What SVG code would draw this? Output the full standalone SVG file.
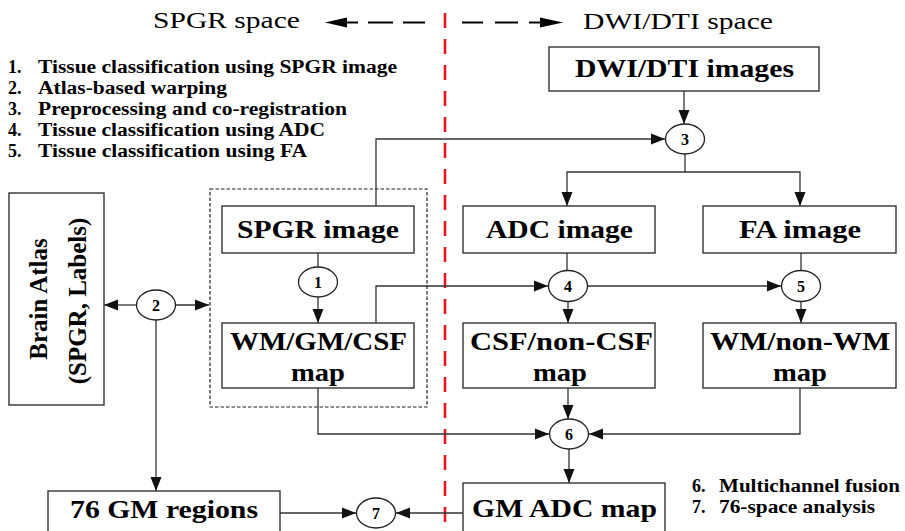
<svg xmlns="http://www.w3.org/2000/svg" width="905" height="531" viewBox="0 0 905 531">
  <defs>
    <marker id="arrow" markerUnits="userSpaceOnUse" markerWidth="16" markerHeight="12" refX="14" refY="6" orient="auto">
      <path d="M0,0.5 L14,6 L0,11.5 Z" fill="#111"/>
    </marker>
    <style>
      .box { fill: #fff; stroke: #333; stroke-width: 1.4; }
      .grp { fill: none; stroke: #222; stroke-width: 1.2; stroke-dasharray: 3.5 2; }
      .op { fill: #fff; stroke: #222; stroke-width: 1.3; }
      .wire { fill: none; stroke: #333; stroke-width: 1.3; marker-end: url(#arrow); }
      .plain { fill: none; stroke: #333; stroke-width: 1.3; }
      .lbl { font-family: "Liberation Serif", "Times New Roman", serif; font-weight: bold; font-size: 25px; fill: #000; }
      .num { font-family: "Liberation Serif", "Times New Roman", serif; font-weight: bold; font-size: 16px; fill: #000; text-anchor: middle; }
      .key { font-family: "Liberation Serif", "Times New Roman", serif; font-weight: bold; font-size: 18px; fill: #000; }
      .space { font-family: "Liberation Serif", "Times New Roman", serif; font-size: 24px; fill: #000; }
      .hdr { stroke: #000; stroke-width: 2; }
    </style>
  </defs>

  <!-- domain headers -->
  <g id="header-spgr">
    <text class="space" x="153" y="28" textLength="147" lengthAdjust="spacingAndGlyphs">SPGR space</text>
    <polygon points="325,22.5 347,17.5 347,27.5" fill="#000"/>
    <line class="hdr" x1="347" y1="22.5" x2="358" y2="22.5"/>
    <line class="hdr" x1="368" y1="22.5" x2="393" y2="22.5"/>
    <line class="hdr" x1="403" y1="22.5" x2="425" y2="22.5"/>
  </g>
  <g id="header-dwi">
    <line class="hdr" x1="462" y1="22.5" x2="483" y2="22.5"/>
    <line class="hdr" x1="495" y1="22.5" x2="518" y2="22.5"/>
    <line class="hdr" x1="529" y1="22.5" x2="541" y2="22.5"/>
    <polygon points="563,22.5 540,17.5 540,27.5" fill="#000"/>
    <text class="space" x="583" y="29" textLength="190" lengthAdjust="spacingAndGlyphs">DWI/DTI space</text>
  </g>

  <!-- boundary between the two spaces -->
  <line id="divider" x1="445" y1="13" x2="445" y2="531" stroke="#ee1122" stroke-width="2.6" stroke-dasharray="15 11"/>

  <!-- step key -->
  <g id="key-top">
    <text class="key" x="8" y="72.5">1.</text>
    <text class="key" x="38" y="72.5" textLength="359" lengthAdjust="spacingAndGlyphs">Tissue classification using SPGR image</text>
    <text class="key" x="8" y="93.5">2.</text>
    <text class="key" x="38" y="93.5" textLength="189" lengthAdjust="spacingAndGlyphs">Atlas-based warping</text>
    <text class="key" x="8" y="114.5">3.</text>
    <text class="key" x="38" y="114.5" textLength="309" lengthAdjust="spacingAndGlyphs">Preprocessing and co-registration</text>
    <text class="key" x="8" y="135.5">4.</text>
    <text class="key" x="38" y="135.5" textLength="287" lengthAdjust="spacingAndGlyphs">Tissue classification using ADC</text>
    <text class="key" x="8" y="156.5">5.</text>
    <text class="key" x="38" y="156.5" textLength="269" lengthAdjust="spacingAndGlyphs">Tissue classification using FA</text>
  </g>
  <g id="key-bottom">
    <text class="key" x="692" y="492">6.</text>
    <text class="key" x="719" y="492" textLength="181" lengthAdjust="spacingAndGlyphs">Multichannel fusion</text>
    <text class="key" x="692" y="513">7.</text>
    <text class="key" x="719" y="513" textLength="156" lengthAdjust="spacingAndGlyphs">76-space analysis</text>
  </g>

  <!-- connectors -->
  <g id="connectors">
    <path class="wire" d="M684 91 V124"/>
    <path class="wire" d="M376 206 V139 H665"/>
    <path class="plain" d="M685 154 V172"/>
    <path class="wire" d="M685 172 H567 V206"/>
    <path class="wire" d="M685 172 H800 V206"/>
    <path class="plain" d="M567 253 V271"/>
    <path class="wire" d="M568 301 V323"/>
    <path class="plain" d="M801 253 V271"/>
    <path class="wire" d="M801 301 V323"/>
    <path class="wire" d="M376 323 V286 H548"/>
    <path class="wire" d="M588 286 H781"/>
    <path class="plain" d="M318 253 V267"/>
    <path class="wire" d="M318 297 V323"/>
    <path class="wire" d="M136 305 H104"/>
    <path class="wire" d="M176 305 H209"/>
    <path class="wire" d="M156 320 V491"/>
    <path class="wire" d="M318 388 V434 H549"/>
    <path class="wire" d="M568 388 V419"/>
    <path class="wire" d="M800 388 V434 H589"/>
    <path class="wire" d="M569 449 V483"/>
    <path class="wire" d="M280 513 H356"/>
    <path class="wire" d="M463 513 H396"/>
  </g>

  <!-- SPGR-space nodes -->
  <g id="spgr-group">
    <rect class="grp" x="210" y="189" width="217" height="218"/>
  </g>
  <g id="brain-atlas">
    <rect class="box" x="9" y="193" width="95" height="212"/>
    <text class="lbl" transform="translate(47,299) rotate(-90)" text-anchor="middle">Brain Atlas</text>
    <text class="lbl" transform="translate(86,301) rotate(-90)" text-anchor="middle">(SPGR, Labels)</text>
  </g>
  <g id="spgr-image">
    <rect class="box" x="222" y="206" width="192" height="47"/>
    <text class="lbl" x="237" y="238" textLength="162" lengthAdjust="spacingAndGlyphs">SPGR image</text>
  </g>
  <g id="wm-gm-csf-map">
    <rect class="box" x="222" y="323" width="192" height="65"/>
    <text class="lbl" x="230" y="350" textLength="177" lengthAdjust="spacingAndGlyphs">WM/GM/CSF</text>
    <text class="lbl" x="291" y="381" textLength="54" lengthAdjust="spacingAndGlyphs">map</text>
  </g>
  <g id="gm-regions">
    <rect class="box" x="48" y="491" width="232" height="50"/>
    <text class="lbl" x="70" y="518" textLength="188" lengthAdjust="spacingAndGlyphs">76 GM regions</text>
  </g>

  <!-- DWI/DTI-space nodes -->
  <g id="dwi-dti-images">
    <rect class="box" x="549" y="47" width="270" height="44"/>
    <text class="lbl" x="575" y="77" textLength="219" lengthAdjust="spacingAndGlyphs">DWI/DTI images</text>
  </g>
  <g id="adc-image">
    <rect class="box" x="463" y="206" width="192" height="47"/>
    <text class="lbl" x="486" y="238" textLength="147" lengthAdjust="spacingAndGlyphs">ADC image</text>
  </g>
  <g id="fa-image">
    <rect class="box" x="703" y="206" width="193" height="47"/>
    <text class="lbl" x="739" y="238" textLength="122" lengthAdjust="spacingAndGlyphs">FA image</text>
  </g>
  <g id="csf-map">
    <rect class="box" x="463" y="323" width="192" height="65"/>
    <text class="lbl" x="470" y="350" textLength="183" lengthAdjust="spacingAndGlyphs">CSF/non-CSF</text>
    <text class="lbl" x="533" y="381" textLength="54" lengthAdjust="spacingAndGlyphs">map</text>
  </g>
  <g id="wm-map">
    <rect class="box" x="703" y="323" width="193" height="65"/>
    <text class="lbl" x="710" y="350" textLength="180" lengthAdjust="spacingAndGlyphs">WM/non-WM</text>
    <text class="lbl" x="773" y="381" textLength="54" lengthAdjust="spacingAndGlyphs">map</text>
  </g>
  <g id="gm-adc-map">
    <rect class="box" x="463" y="483" width="202" height="58"/>
    <text class="lbl" x="472" y="517" textLength="185" lengthAdjust="spacingAndGlyphs">GM ADC map</text>
  </g>

  <!-- processing steps -->
  <g id="step-1"><ellipse class="op" cx="318" cy="282" rx="19.5" ry="15"/><text class="num" x="318" y="288">1</text></g>
  <g id="step-2"><ellipse class="op" cx="156" cy="305" rx="19.5" ry="15"/><text class="num" x="156" y="311">2</text></g>
  <g id="step-3"><ellipse class="op" cx="685" cy="139" rx="19.5" ry="15"/><text class="num" x="685" y="145">3</text></g>
  <g id="step-4"><ellipse class="op" cx="568" cy="286" rx="19.5" ry="15.5"/><text class="num" x="568" y="292">4</text></g>
  <g id="step-5"><ellipse class="op" cx="801" cy="286" rx="19.5" ry="15.5"/><text class="num" x="801" y="292">5</text></g>
  <g id="step-6"><ellipse class="op" cx="569" cy="434" rx="19.5" ry="15"/><text class="num" x="569" y="440">6</text></g>
  <g id="step-7"><ellipse class="op" cx="376" cy="513" rx="19.5" ry="15"/><text class="num" x="376" y="519">7</text></g>
</svg>
